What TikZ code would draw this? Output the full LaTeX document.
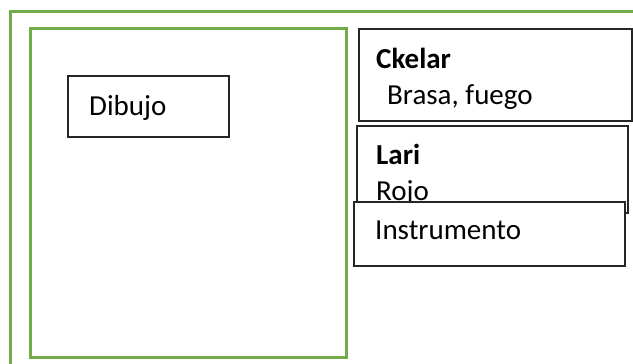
\documentclass[tikz,border=0pt]{standalone}
\usepackage{fontspec}
\setmainfont{Carlito}
\definecolor{offgreen}{HTML}{70AD47}
\begin{document}
\begin{tikzpicture}[x=1pt,y=-1pt,
  greenline/.style={draw=offgreen,line width=3pt},
  box/.style={draw=black!85,line width=1.3pt,fill=white},
  txt/.style={anchor=base west,inner sep=0pt,font=\fontsize{29}{34}\selectfont}]
\useasboundingbox (0,0) rectangle (633,364);
\draw[greenline] (10.5,364) -- (10.5,11) -- (633,11);
\draw[greenline] (30,28) rectangle (346,357);
\draw[box] (68,76) rectangle (229,137);
\node[txt] (dib) at (89,115) {Dibujo};
\draw[box] (359,29) rectangle (632,121);
\node[txt] (ck) at (376,68) {\bfseries Ckelar};
\node[txt] (br) at (387,104) {Brasa, fuego};
\draw[box] (357,126) rectangle (628,213);
\node[txt] (la) at (376,164) {\bfseries Lari};
\node[txt] (ro) at (376,200) {Rojo};
\draw[box] (354,202) rectangle (625,266);
\node[txt] (ins) at (375,239) {Instrumento};
\end{tikzpicture}
\end{document}
